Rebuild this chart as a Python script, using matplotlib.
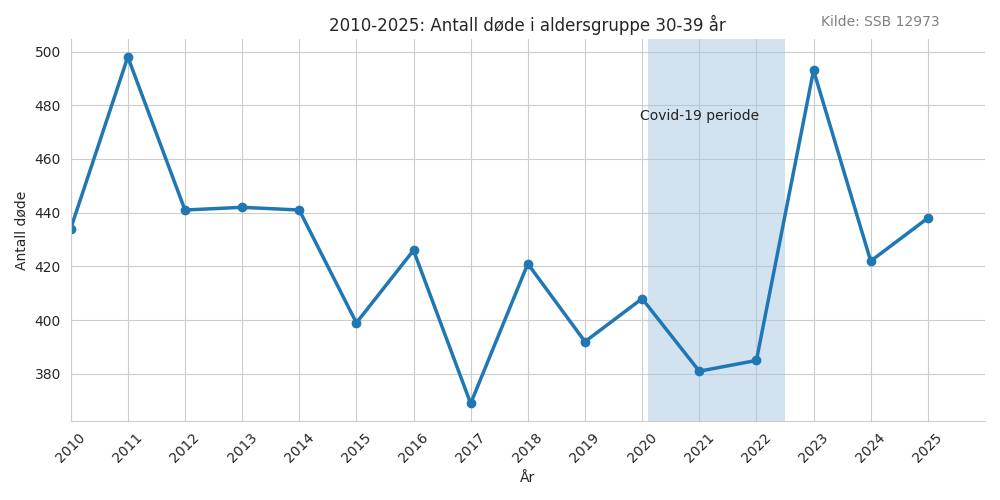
import matplotlib
matplotlib.use("Agg")
import matplotlib.pyplot as plt
import seaborn as sns

years = list(range(2010, 2026))
deaths = [434, 498, 441, 442, 441, 399, 426, 369, 421, 392, 408, 381, 385, 493, 422, 438]

sns.set_style("whitegrid")
plt.rcParams['font.family'] = ['DejaVu Sans']
fig, ax = plt.subplots(figsize=(10, 5), dpi=100)
ax.axvspan(2020.1, 2022.5, color="#a6c8e0", alpha=0.5, lw=0)
ax.plot(years, deaths, marker="o", color="#1f77b4", lw=2.5, ms=6)
ax.text(2021, 476, "Covid-19 periode", ha="center", va="center", fontsize=10, color="#222222")
ax.set_xlim(2010, 2026)
ax.set_ylim(362.5, 504.5)
ax.set_xticks(years)
ax.set_xticklabels([str(y) for y in years], rotation=45)
ax.set_title("2010-2025: Antall døde i aldersgruppe 30-39 år", fontsize=12)
ax.set_xlabel("År")
ax.set_ylabel("Antall døde")
sns.despine(ax=ax)
fig.text(0.88, 0.955, "Kilde: SSB 12973", ha="center", va="center", fontsize=10, color="gray")
fig.tight_layout()
fig.savefig("out.png")
